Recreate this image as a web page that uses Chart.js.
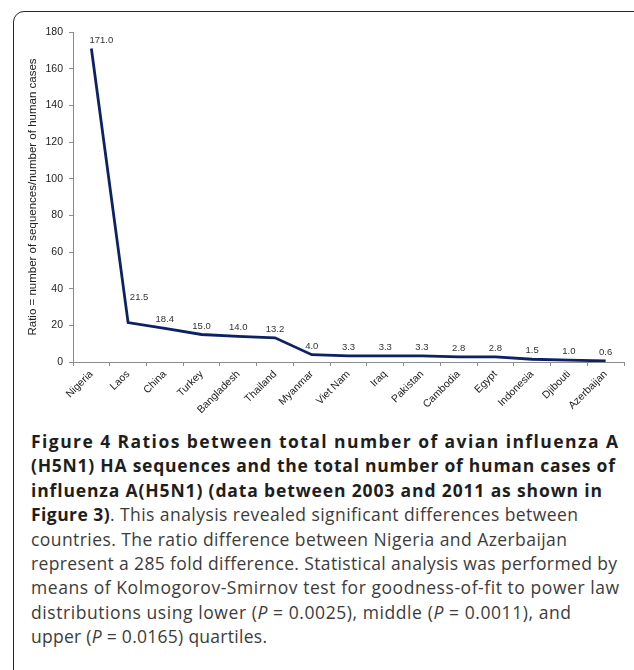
<!DOCTYPE html>
<html>
<head>
<meta charset="utf-8">
<script src="https://cdn.jsdelivr.net/npm/chart.js@4.4.1/dist/chart.umd.min.js"></script>
<style>
  html, body { margin: 0; padding: 0; background: #fff; }
  body { width: 634px; height: 670px; position: relative; overflow: hidden; }
  #frame {
    position: absolute; left: 13px; top: 11px; width: 700px; height: 720px;
    border: 1.6px solid #262626; border-radius: 11px; box-sizing: border-box;
  }
  #chartBox { position: absolute; left: 0; top: 0; width: 634px; height: 420px; }
  #caption {
    position: absolute; left: 31px; top: 429px;
    font-family: "Open Sans", sans-serif; font-size: 17.5px; line-height: 24.4px;
    color: #3c3c3c; white-space: nowrap;
  }
  #caption .ln { display: block; }
  #caption .ln span.t { display: inline-block; }
  #caption b { font-weight: 700; color: #1e1e1e; }
</style>
</head>
<body>
<div id="frame"></div>
<div id="chartBox"><canvas id="chart"></canvas></div>
<div id="caption">
  <div class="ln" data-end="618"><span class="t"><b>Figure 4 Ratios between total number of avian influenza A</b></span></div>
  <div class="ln" data-end="615"><span class="t"><b>(H5N1) HA sequences and the total number of human cases of</b></span></div>
  <div class="ln" data-end="602"><span class="t"><b>influenza A(H5N1) (data between 2003 and 2011 as shown in</b></span></div>
  <div class="ln" data-end="578"><span class="t"><b>Figure 3)</b>. This analysis revealed significant differences between</span></div>
  <div class="ln" data-end="567"><span class="t">countries. The ratio difference between Nigeria and Azerbaijan</span></div>
  <div class="ln" data-end="617"><span class="t">represent a 285 fold difference. Statistical analysis was performed by</span></div>
  <div class="ln" data-end="619"><span class="t">means of Kolmogorov-Smirnov test for goodness-of-fit to power law</span></div>
  <div class="ln" data-end="571"><span class="t">distributions using lower (<i>P</i> = 0.0025), middle (<i>P</i> = 0.0011), and</span></div>
  <div class="ln" data-end="267"><span class="t">upper (<i>P</i> = 0.0165) quartiles.</span></div>
</div>
<script>
// values
const countries = ['Nigeria', 'Laos', 'China', 'Turkey', 'Bangladesh', 'Thailand', 'Myanmar',
  'Viet Nam', 'Iraq', 'Pakistan', 'Cambodia', 'Egypt', 'Indonesia', 'Djibouti', 'Azerbaijan'];
const ratios = [171.0, 21.5, 18.4, 15.0, 14.0, 13.2, 4.0, 3.3, 3.3, 3.3, 2.8, 2.8, 1.5, 1.0, 0.6];
const yMin = 0;
const yMax = 180;
const yStep = 20;
const yTitle = 'Ratio = number of sequences/number of human cases';

const axisFont = '"Liberation Sans", Arial, sans-serif';

// labels above each point, a couple nudged off the steep line like in the original
const valueLabels = {
  id: 'valueLabels',
  afterDatasetsDraw(chart, args, opts) {
    const ctx = chart.ctx;
    const meta = chart.getDatasetMeta(0);
    ctx.save();
    ctx.font = '9.5px ' + axisFont;
    ctx.fillStyle = '#333';
    ctx.textAlign = 'center';
    ctx.textBaseline = 'alphabetic';
    meta.data.forEach((pt, i) => {
      const nudge = opts.nudge[i] || [0, 0];
      ctx.fillText(ratios[i].toFixed(1), pt.x + nudge[0], pt.y - 6 + nudge[1]);
    });
    ctx.restore();
  }
};

const chart = new Chart(document.getElementById('chart'), {
  type: 'line',
  data: {
    labels: countries,
    datasets: [{
      data: ratios,
      borderColor: '#0c2262',
      borderWidth: 2.8,
      pointRadius: 0,
      tension: 0,
      fill: false
    }]
  },
  options: {
    responsive: true,
    maintainAspectRatio: false,
    animation: false,
    layout: { padding: { left: 22, top: 32, right: 10, bottom: 0 } },
    plugins: {
      legend: { display: false },
      tooltip: { enabled: false },
      valueLabels: { nudge: { 0: [10, 0], 1: [11, -17] } }
    },
    scales: {
      x: {
        offset: true,
        grid: { display: true, offset: true, drawOnChartArea: false, drawTicks: true, tickLength: 4, color: '#8c8c8c' },
        border: { color: '#8c8c8c', width: 1 },
        ticks: {
          autoSkip: false, minRotation: 45, maxRotation: 45, padding: 2,
          color: '#222', font: { family: axisFont, size: 10.5 }
        },
        afterFit(scale) { scale.height = 58; }
      },
      y: {
        min: yMin, max: yMax,
        grid: { display: true, drawOnChartArea: false, drawTicks: true, tickLength: 4, color: '#8c8c8c' },
        border: { color: '#8c8c8c', width: 1 },
        ticks: { stepSize: yStep, padding: 6, color: '#222', font: { family: axisFont, size: 10.5 } },
        title: { display: true, text: yTitle, color: '#222', font: { family: axisFont, size: 11.5 } },
        afterFit(scale) { scale.width = 51; }
      }
    }
  },
  plugins: [valueLabels]
});

// stretch each caption line to the width it has in the figure
function fitCaption() {
  const left = document.getElementById('caption').getBoundingClientRect().left;
  document.querySelectorAll('#caption .ln').forEach(ln => {
    const end = parseFloat(ln.dataset.end);
    if (!end) return;
    const t = ln.querySelector('.t');
    const w = t.getBoundingClientRect().width;
    const n = t.textContent.length - 1;
    t.style.letterSpacing = ((end - left - w) / n) + 'px';
  });
}
if (document.fonts && document.fonts.ready) {
  document.fonts.ready.then(fitCaption);
} else {
  fitCaption();
}
</script>
</body>
</html>
